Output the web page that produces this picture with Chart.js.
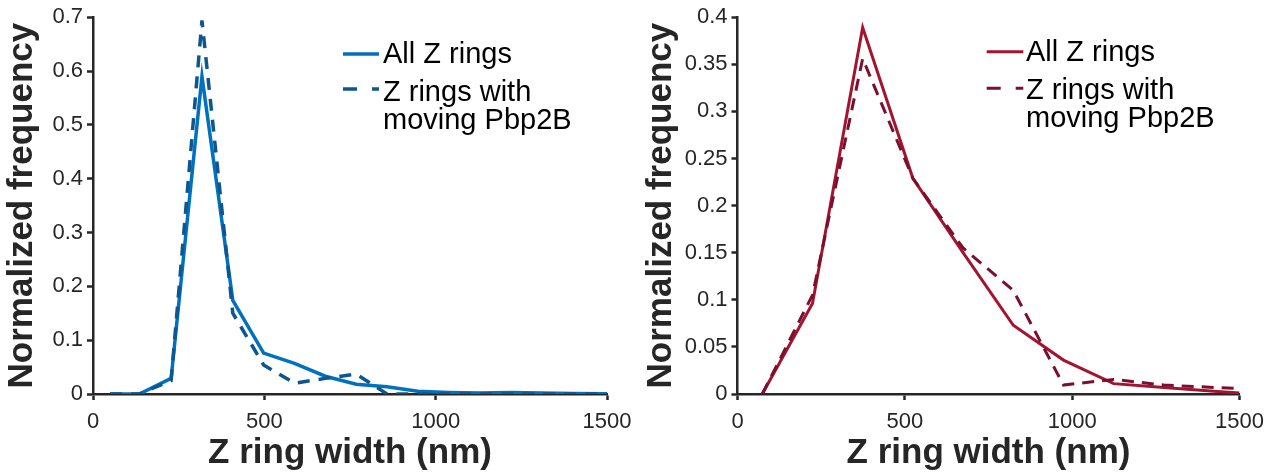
<!DOCTYPE html>
<html><head><meta charset="utf-8">
<script src="https://cdn.jsdelivr.net/npm/chart.js@4.4.1/dist/chart.umd.min.js"></script>
<style>
html,body{margin:0;padding:0;background:#fff;}
#wrap{position:relative;width:1273px;height:473px;overflow:hidden;}
canvas{position:absolute;top:0;}
</style>
</head><body>
<div id="wrap">
<canvas id="c1" width="640" height="473" style="left:0px"></canvas>
<canvas id="c2" width="633" height="473" style="left:640px"></canvas>
</div>
<script>
// ---- data ----
const leftWidths  = [50, 135, 228, 318, 408, 498, 588, 678, 768, 858, 948, 1038, 1128, 1218, 1308, 1398, 1500];
const leftAll     = [0, 0, 0.029, 0.59, 0.174, 0.076, 0.057, 0.033, 0.018, 0.0135, 0.005, 0.003, 0.002, 0.003, 0.002, 0.001, 0.0005];
const leftMoving  = [0, 0, 0.025, 0.694, 0.15, 0.054, 0.02, 0.029, 0.037, 0, 0, 0, 0, 0, 0, 0, 0];

const rightWidths = [74, 224, 374, 524, 674, 824, 974, 1124, 1274, 1424, 1500];
const rightAll    = [0, 0.096, 0.389, 0.229, 0.15, 0.073, 0.036, 0.011, 0.007, 0.003, 0.001];
const rightMoving = [0, 0.105, 0.356, 0.229, 0.155, 0.11, 0.0095, 0.0155, 0.0095, 0.007, 0.006];

const leftYTicks  = [0, 0.1, 0.2, 0.3, 0.4, 0.5, 0.6, 0.7];
const rightYTicks = [0, 0.05, 0.1, 0.15, 0.2, 0.25, 0.3, 0.35, 0.4];
const xTicks      = [0, 500, 1000, 1500];

const seriesNames = ['All Z rings', ['Z rings with', 'moving Pbp2B']];
const xTitle = 'Z ring width (nm)';
const yTitle = 'Normalized frequency';

// ---- styling ----
const FONT = '"Liberation Sans", Arial, Helvetica, sans-serif';
const AXIS = '#262626';

const zLegend = {
  id: 'zLegend',
  afterDraw(chart, args, o) {
    const ctx = chart.ctx;
    ctx.save();
    const ds = chart.data.datasets;
    ctx.lineCap = 'butt';
    ctx.strokeStyle = ds[0].borderColor; ctx.lineWidth = o.lw;
    ctx.setLineDash([]);
    ctx.beginPath(); ctx.moveTo(o.x, o.ly1); ctx.lineTo(o.x + o.len, o.ly1); ctx.stroke();
    ctx.strokeStyle = ds[1].borderColor;
    ctx.setLineDash([14, 15]);
    ctx.beginPath(); ctx.moveTo(o.x, o.ly2); ctx.lineTo(o.x + o.len, o.ly2); ctx.stroke();
    ctx.setLineDash([]);
    ctx.fillStyle = '#000';
    ctx.font = '29px ' + FONT;
    ctx.textBaseline = 'middle';
    ctx.textAlign = 'left';
    ctx.fillText(seriesNames[0], o.tx, o.t1);
    ctx.fillText(seriesNames[1][0], o.tx, o.t2);
    ctx.fillText(seriesNames[1][1], o.tx, o.t3);
    ctx.restore();
  }
};

function pts(xs, ys) { return xs.map((x, i) => ({x: x, y: ys[i]})); }

function makeChart(id, cfg) {
  return new Chart(document.getElementById(id), {
    type: 'line',
    data: {
      datasets: [
        { data: pts(cfg.xs, cfg.all), borderColor: cfg.c1, borderWidth: cfg.lw,
          pointRadius: 0, tension: 0, fill: false, order: 1 },
        { data: pts(cfg.xs, cfg.mov), borderColor: cfg.c2, borderWidth: cfg.lw,
          borderDash: cfg.dash, pointRadius: 0, tension: 0, fill: false, order: 0 }
      ]
    },
    options: {
      responsive: false,
      animation: false,
      events: [],
      layout: { padding: { top: 15, right: cfg.padR, left: 0, bottom: 0 } },
      plugins: { legend: { display: false }, tooltip: { enabled: false }, zLegend: cfg.legend },
      scales: {
        x: {
          type: 'linear', min: 0, max: 1500,
          afterBuildTicks: s => { s.ticks = xTicks.map(v => ({value: v})); },
          afterFit: s => { s.height = 79; },
          grid: { drawOnChartArea: false, drawTicks: true, tickLength: 6, tickWidth: 2.5, tickColor: AXIS },
          border: { display: true, color: AXIS, width: 2.5 },
          ticks: { font: { family: FONT, size: 22 }, color: AXIS, padding: 8.5, maxRotation: 0,
                   callback: v => String(v) },
          title: { display: true, text: xTitle, color: AXIS,
                   font: { family: FONT, size: 35, weight: 'bold', lineHeight: 1.1 },
                   padding: { top: 0, bottom: 0 } }
        },
        y: {
          type: 'linear', min: 0, max: cfg.ymax,
          afterBuildTicks: s => { s.ticks = cfg.yt.map(v => ({value: v})); },
          afterFit: s => { s.width = cfg.yw; },
          grid: { drawOnChartArea: false, drawTicks: true, tickLength: 6, tickWidth: 2.5, tickColor: AXIS },
          border: { display: true, color: AXIS, width: 2.5 },
          ticks: { font: { family: FONT, size: 22 }, color: AXIS, padding: 4,
                   callback: v => String(Number(v.toFixed(3))) },
          title: { display: true, text: yTitle, color: AXIS,
                   font: { family: FONT, size: 35, weight: 'bold', lineHeight: 1.2 },
                   padding: { top: cfg.ytp, bottom: 0 } }
        }
      }
    },
    plugins: [zLegend]
  });
}

makeChart('c1', {
  xs: leftWidths, all: leftAll, mov: leftMoving, c1: '#0072BD', c2: '#0E5690', lw: 3.5,
  dash: [12, 9], padR: 33, ymax: 0.7, yt: leftYTicks, yw: 93, ytp: 1,
  legend: { x: 343, len: 36, lw: 3.5, ly1: 54, ly2: 89, tx: 383, t1: 54.5, t2: 92.5, t3: 120.5 }
});
makeChart('c2', {
  xs: rightWidths, all: rightAll, mov: rightMoving, c1: '#A2142F', c2: '#7B0F2E', lw: 3,
  dash: [12, 8], padR: 33.5, ymax: 0.4, yt: rightYTicks, yw: 97.5, ytp: 0,
  legend: { x: 346.7, len: 36.6, lw: 3, ly1: 51.7, ly2: 88.3, tx: 386, t1: 53, t2: 91.3, t3: 119 }
});
</script>
</body></html>
